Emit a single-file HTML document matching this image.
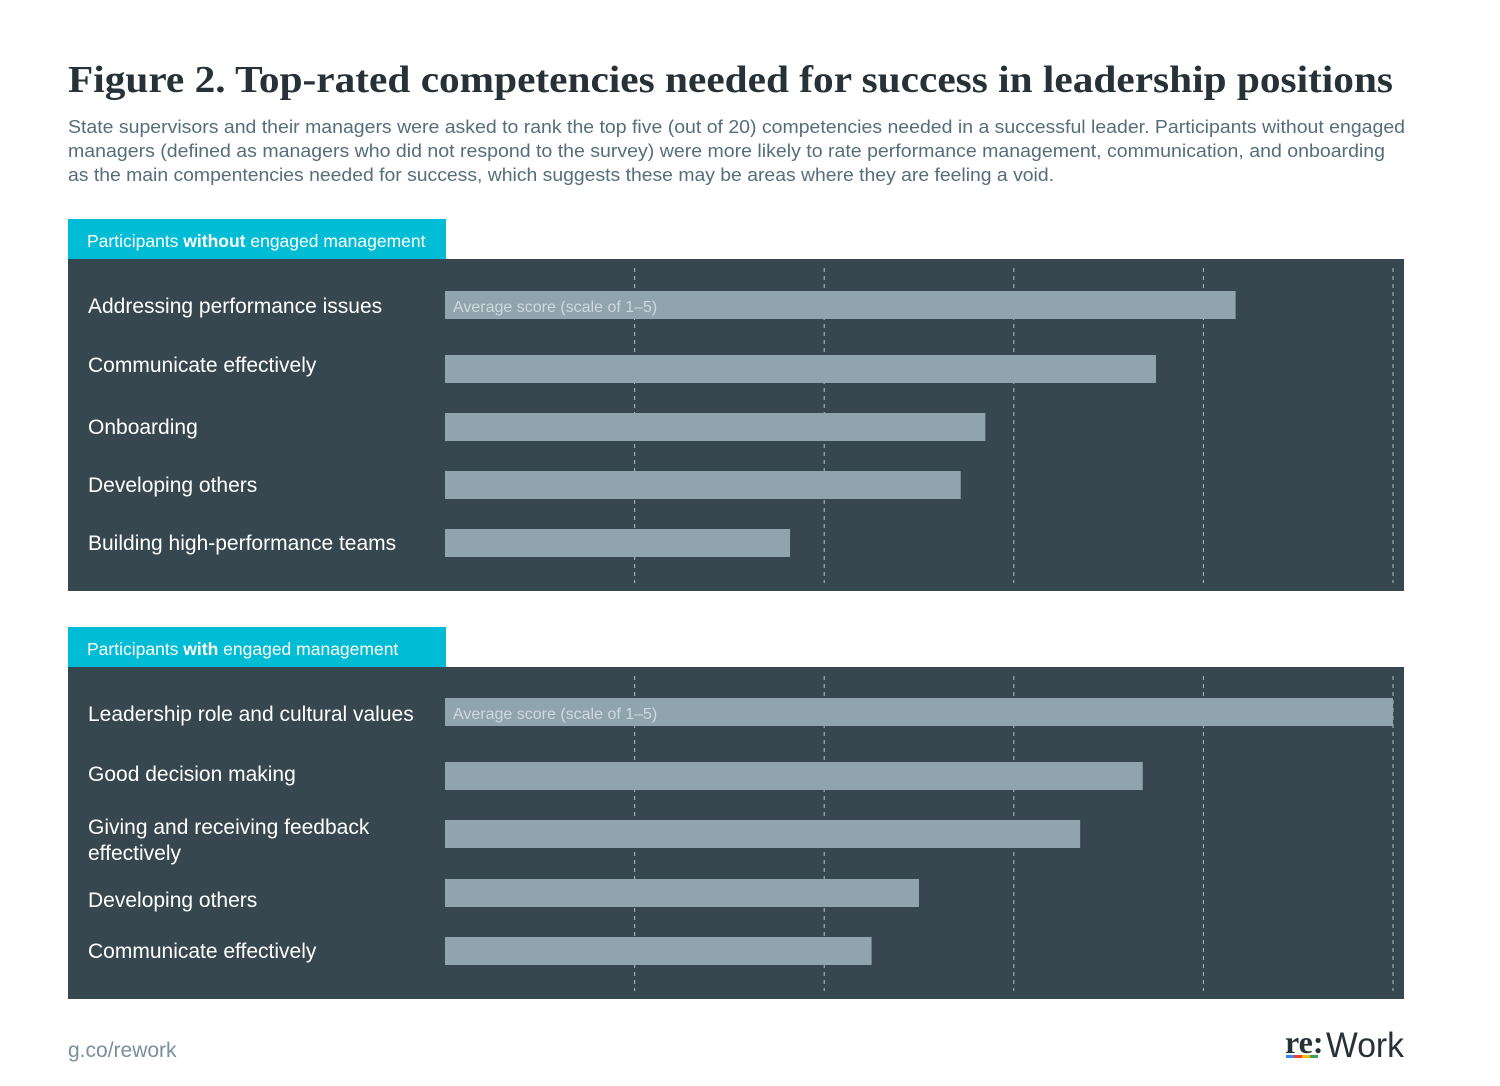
<!DOCTYPE html>
<html><head><meta charset="utf-8"><style>
body{margin:0;background:#fff;width:1500px;height:1081px;overflow:hidden;font-family:"Liberation Sans",sans-serif}
</style></head><body>
<svg width="1500" height="1081" id="chart" xmlns="http://www.w3.org/2000/svg">
<text x="68" y="92" font-family="Liberation Serif,serif" font-weight="bold" font-size="38" fill="#263238" textLength="1325" lengthAdjust="spacingAndGlyphs">Figure 2. Top-rated competencies needed for success in leadership positions</text>
<g font-size="18.5" fill="#546e7a">
<text x="68" y="133" textLength="1337" lengthAdjust="spacingAndGlyphs">State supervisors and their managers were asked to rank the top five (out of 20) competencies needed in a successful leader. Participants without engaged</text>
<text x="68" y="157" textLength="1317" lengthAdjust="spacingAndGlyphs">managers (defined as managers who did not respond to the survey) were more likely to rate performance management, communication, and onboarding</text>
<text x="68" y="181" textLength="986" lengthAdjust="spacingAndGlyphs">as the main compentencies needed for success, which suggests these may be areas where they are feeling a void.</text>
</g>
<g id="panels"></g>
<text x="68" y="1057" font-size="21" fill="#78909c">g.co/rework</text>
<g>
<text x="1285" y="1053" font-family="Liberation Serif,serif" font-weight="bold" font-size="32" fill="#263238">re:</text>
<text x="1326" y="1057" font-size="35" fill="#263238" textLength="78" lengthAdjust="spacingAndGlyphs">Work</text>
<rect x="1286" y="1055" width="8" height="3" fill="#4285f4"/><rect x="1294" y="1055" width="8" height="3" fill="#ea4335"/><rect x="1302" y="1055" width="8" height="3" fill="#fbbc05"/><rect x="1310" y="1055" width="8" height="3" fill="#34a853"/>
</g>
</svg>
<script>
const ticks=[1,2,3,4,5];
const cats1=["Addressing performance issues","Communicate effectively","Onboarding","Developing others","Building high-performance teams"];
const vals1=[4.17,3.75,2.85,2.72,1.82];
const cats2=["Leadership role and cultural values","Good decision making","Giving and receiving feedback|effectively","Developing others","Communicate effectively"];
const vals2=[5.0,3.68,3.35,2.5,2.25];
const NS="http://www.w3.org/2000/svg";
const x0=445,x5=1393;
const xs=v=>x0+(x5-x0)*v/5;
function mk(tag,attrs,parent){const e=document.createElementNS(NS,tag);for(const k in attrs)e.setAttribute(k,attrs[k]);parent.appendChild(e);return e;}
const root=document.getElementById('panels');
function panel(top,tabHtml,cats,vals,rowY,labY,idx){
  const g=mk('g',{},root);
  
  
  const tab=mk('rect',{x:68,y:top,width:378,height:40,fill:'#00bcd4'},g);
  
  
  const tt=mk('text',{x:87,y:top+28,'font-size':17.5,fill:'#fff'},g);
  tt.innerHTML=tabHtml;
  
  
  const bg=mk('rect',{x:68,y:top+40,width:1336,height:332,fill:'#37474f'},g);
  
  
  ticks.forEach(t=>{const l=mk('line',{x1:xs(t),x2:xs(t),y1:top+49,y2:top+364,stroke:'#b0bec5','stroke-width':1,'stroke-dasharray':'4,4'},g);
    
    });
  cats.forEach((c,i)=>{
    const cy=top+rowY[i];
    const b=mk('rect',{x:x0,y:cy-14,width:xs(vals[i])-x0,height:28,fill:'#90a4ae'},g);
    
    
    const parts=c.split('|');
    const lt=mk('text',{x:88,y:top+labY[i],'font-size':21,fill:'#fff'},g);
    parts.forEach((p,j)=>{const ts=mk('tspan',{x:88,dy:j?26:0},lt);ts.textContent=p;});
    
    
    if(i===0){const a=mk('text',{x:453,y:cy+7,'font-size':16,fill:'#cfd8dc'},g);a.textContent='Average score (scale of 1\u20135)';
      
      }
  });
}
panel(219,'Participants <tspan font-weight="bold">without</tspan> engaged management',cats1,vals1,[86,150,208,266,324],[94,153,215,273,331],1);
panel(627,'Participants <tspan font-weight="bold">with</tspan> engaged management',cats2,vals2,[85,149,207,266,324],[94,154,207,280,331],2);
</script>
</body></html>
